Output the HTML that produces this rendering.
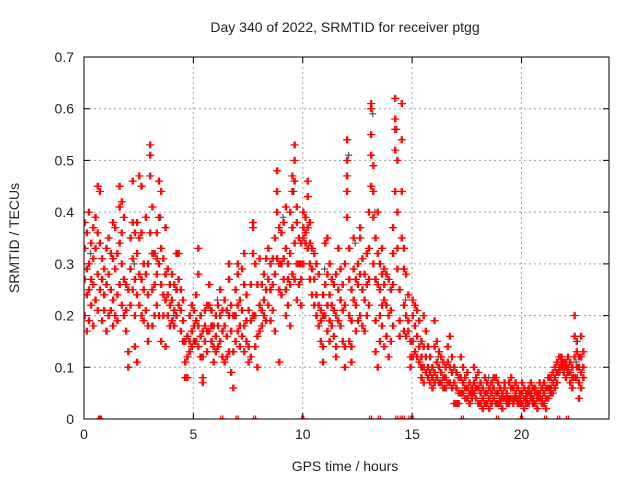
<!DOCTYPE html>
<html><head><meta charset="utf-8"><style>
body{margin:0;background:#fff}
svg text{font-family:"Liberation Sans",sans-serif;fill:#222}
</style></head><body>
<svg id="chart" width="640" height="480" xmlns="http://www.w3.org/2000/svg">
<rect width="640" height="480" fill="#fff"/>
<text x="345" y="32" font-size="14" text-anchor="middle">Day 340 of 2022, SRMTID for receiver ptgg</text>
<text x="0" y="0" font-size="14" text-anchor="middle" transform="translate(19,238) rotate(-90)">SRMTID / TECUs</text>
<text x="345" y="471" font-size="14" text-anchor="middle">GPS time / hours</text>
<g id="grid"></g>
<g id="ticks"></g>
<svg id="plot" x="84" y="57" width="525" height="362" overflow="hidden"></svg>
<rect x="84" y="57" width="525" height="362" fill="none" stroke="#000" stroke-width="1"/>
</svg>
<script>
const xTicks=[0,5,10,15,20];
const yTicks=[0,0.1,0.2,0.3,0.4,0.5,0.6,0.7];
const yTickLabels=["0","0.1","0.2","0.3","0.4","0.5","0.6","0.7"];
const xMax=24, yMax=0.7;
const hours=[
0,0,0,0, 0.1,0.1,0.1,0.1, 0.2,0.2,0.2,0.2, 0.3,0.3,0.3, 0.4,0.4,0.4,0.4, 0.5,0.5,0.5, 0.6,0.6,0.6,0.6, 0.7,0.7,0.7, 0.8,0.8,0.8, 0.9,0.9,0.9,
1.0,1.0,1.0, 1.1,1.1,1.1, 1.2,1.2,1.2, 1.3,1.3,1.3,1.3, 1.4,1.4,1.4, 1.5,1.5,1.5, 1.6,1.6,1.6,1.6, 1.7,1.7,1.7,1.7, 1.8,1.8,1.8, 1.9,1.9,1.9,
2.0,2.0,2.0, 2.1,2.1,2.1, 2.2,2.2,2.2,2.2, 2.3,2.3,2.3,2.3, 2.4,2.4,2.4,2.4, 2.5,2.5,2.5,2.5, 2.6,2.6,2.6,2.6, 2.7,2.7,2.7, 2.8,2.8,2.8, 2.9,2.9,2.9,2.9,
3.0,3.0,3.0,3.0, 3.1,3.1,3.1,3.1, 3.2,3.2,3.2, 3.3,3.3,3.3,3.3, 3.4,3.4,3.4,3.4, 3.5,3.5,3.5,3.5, 3.6,3.6,3.6, 3.7,3.7,3.7,3.7, 3.8,3.8,3.8, 3.9,3.9,3.9,
4.0,4.0,4.0, 4.1,4.1,4.1, 4.2,4.2,4.2, 4.3,4.3,4.3, 4.4,4.4,4.4, 4.5,4.5,4.5, 4.6,4.6,4.6, 4.7,4.7,4.7, 4.8,4.8,4.8, 4.9,4.9,4.9,
5.0,5.0,5.0, 5.1,5.1,5.1, 5.2,5.2,5.2,5.2, 5.3,5.3,5.3, 5.4,5.4,5.4,5.4, 5.5,5.5,5.5, 5.6,5.6,5.6, 5.7,5.7,5.7, 5.8,5.8,5.8, 5.9,5.9,5.9,
6.0,6.0,6.0, 6.1,6.1,6.1, 6.2,6.2,6.2, 6.3,6.3,6.3, 6.4,6.4,6.4, 6.5,6.5,6.5, 6.6,6.6,6.6,6.6, 6.7,6.7,6.7, 6.8,6.8,6.8, 6.9,6.9,6.9,
7.0,7.0,7.0,7.0, 7.1,7.1,7.1, 7.2,7.2,7.2, 7.3,7.3,7.3,7.3, 7.4,7.4,7.4, 7.5,7.5,7.5, 7.6,7.6,7.6, 7.7,7.7,7.7,7.7, 7.8,7.8,7.8, 7.9,7.9,7.9,
8.0,8.0,8.0, 8.1,8.1,8.1, 8.2,8.2,8.2, 8.3,8.3,8.3, 8.4,8.4,8.4, 8.5,8.5,8.5, 8.6,8.6,8.6, 8.7,8.7,8.7, 8.8,8.8,8.8,8.8, 8.9,8.9,8.9,8.9,
9.0,9.0,9.0, 9.1,9.1,9.1, 9.2,9.2,9.2,9.2, 9.3,9.3,9.3, 9.4,9.4,9.4,9.4, 9.5,9.5,9.5,9.5, 9.6,9.6,9.6,9.6,9.6, 9.7,9.7,9.7,9.7, 9.8,9.8,9.8, 9.9,9.9,9.9,9.9,
10.0,10.0,10.0,10.0, 10.1,10.1,10.1, 10.2,10.2,10.2,10.2, 10.3,10.3,10.3,10.3, 10.4,10.4,10.4, 10.5,10.5,10.5, 10.6,10.6,10.6, 10.7,10.7,10.7, 10.8,10.8,10.8, 10.9,10.9,10.9,10.9,
11.0,11.0,11.0, 11.1,11.1,11.1,11.1, 11.2,11.2,11.2,11.2, 11.3,11.3,11.3, 11.4,11.4,11.4, 11.5,11.5,11.5,11.5, 11.6,11.6,11.6, 11.7,11.7,11.7, 11.8,11.8,11.8, 11.9,11.9,11.9,11.9,
12.0,12.0,12.0,12.0,12.0, 12.1,12.1,12.1,12.1, 12.2,12.2,12.2,12.2, 12.3,12.3,12.3, 12.4,12.4,12.4, 12.5,12.5,12.5, 12.6,12.6,12.6,12.6, 12.7,12.7,12.7, 12.8,12.8,12.8, 12.9,12.9,12.9,
13.0,13.0,13.0,13.0, 13.1,13.1,13.1,13.1,13.1, 13.2,13.2,13.2,13.2, 13.3,13.3,13.3,13.3, 13.4,13.4,13.4,13.4, 13.5,13.5,13.5,13.5, 13.6,13.6,13.6,13.6, 13.7,13.7,13.7,13.7, 13.8,13.8,13.8, 13.9,13.9,13.9,
14.0,14.0,14.0, 14.1,14.1,14.1,14.1, 14.2,14.2,14.2,14.2,14.2, 14.3,14.3,14.3,14.3, 14.4,14.4,14.4, 14.5,14.5,14.5,14.5, 14.6,14.6,14.6,14.6, 14.7,14.7,14.7, 14.8,14.8,14.8, 14.9,14.9,14.9,
15.0,15.0,15.0,15.0, 15.1,15.1,15.1, 15.2,15.2,15.2, 15.3,15.3,15.3, 15.4,15.4,15.4,15.4, 15.5,15.5,15.5,15.5, 15.6,15.6,15.6, 15.7,15.7,15.7, 15.8,15.8,15.8, 15.9,15.9,15.9,
16.0,16.0,16.0,16.0, 16.1,16.1,16.1, 16.2,16.2,16.2, 16.3,16.3,16.3, 16.4,16.4,16.4, 16.5,16.5,16.5, 16.6,16.6,16.6, 16.7,16.7,16.7, 16.8,16.8,16.8, 16.9,16.9,16.9,
17.0,17.0,17.0, 17.1,17.1,17.1, 17.2,17.2,17.2, 17.3,17.3,17.3, 17.4,17.4,17.4, 17.5,17.5,17.5, 17.6,17.6,17.6, 17.7,17.7,17.7, 17.8,17.8,17.8, 17.9,17.9,17.9,
18.0,18.0,18.0, 18.1,18.1,18.1, 18.2,18.2,18.2, 18.3,18.3,18.3, 18.4,18.4,18.4, 18.5,18.5,18.5, 18.6,18.6,18.6, 18.7,18.7,18.7, 18.8,18.8,18.8, 18.9,18.9,18.9,
19.0,19.0,19.0, 19.1,19.1,19.1, 19.2,19.2,19.2, 19.3,19.3,19.3, 19.4,19.4,19.4, 19.5,19.5,19.5, 19.6,19.6,19.6, 19.7,19.7,19.7, 19.8,19.8,19.8, 19.9,19.9,19.9,
20.0,20.0,20.0, 20.1,20.1,20.1, 20.2,20.2,20.2, 20.3,20.3,20.3, 20.4,20.4,20.4, 20.5,20.5,20.5, 20.6,20.6,20.6, 20.7,20.7,20.7, 20.8,20.8,20.8, 20.9,20.9,20.9,
21.0,21.0,21.0, 21.1,21.1,21.1, 21.2,21.2,21.2, 21.3,21.3,21.3, 21.4,21.4,21.4, 21.5,21.5,21.5, 21.6,21.6,21.6, 21.7,21.7,21.7, 21.8,21.8,21.8, 21.9,21.9,21.9,
22.0,22.0,22.0, 22.1,22.1,22.1, 22.2,22.2,22.2, 22.3,22.3,22.3, 22.4,22.4,22.4,22.4, 22.5,22.5,22.5,22.5, 22.6,22.6,22.6,22.6, 22.7,22.7,22.7,22.7, 22.8,22.8,22.8
];
const srmtid=[
.38,.33,.27,.2, .36,.29,.24,.17, .4,.3,.25,.19, .34,.27,.22, .37,.31,.26,.18, .39,.33,.23, .45,.36,.28,.21, .44,.34,.25, .31,.27,.19, .29,.24,.21,
.33,.26,.17, .35,.28,.2, .32,.25,.21, .38,.31,.23,.18, .37,.29,.2, .32,.24,.19, .45,.41,.34,.26, .42,.36,.3,.22, .39,.27,.2, .26,.21,.17,
.25,.13,.1, .35,.29,.22, .46,.38,.31,.25, .36,.27,.2,.14, .38,.32,.24,.11, .47,.35,.28,.22, .45,.36,.27,.2, .3,.25,.19, .39,.28,.21, .3,.24,.18,.15,
.53,.51,.47,.36, .41,.32,.25,.18, .32,.26,.2, .36,.31,.28,.22, .46,.39,.3,.2, .44,.33,.26,.15, .31,.24,.2, .37,.28,.23,.14, .29,.24,.2, .26,.22,.18,
.28,.23,.19, .26,.21,.18, .32,.25,.2, .32,.27,.22, .25,.21,.17, .23,.19,.15, .15,.11,.08, .16,.12,.08, .2,.15,.13, .22,.17,.14,
.21,.18,.15, .24,.19,.15, .33,.28,.18,.14, .2,.16,.12, .17,.12,.08,.07, .21,.18,.15, .22,.17,.13, .26,.22,.17, .21,.18,.15, .18,.14,.11,
.2,.16,.13, .22,.18,.14, .25,.2,.15, .21,.17,.12, .23,.18,.11, .21,.16,.12, .3,.27,.2,.13, .22,.17,.09, .2,.13,.06, .25,.2,.15,
.3,.28,.22,.17, .23,.18,.14, .29,.21,.16, .32,.26,.18,.13, .24,.19,.15, .21,.14,.11, .26,.19,.12, .38,.37,.32,.2, .3,.2,.14, .26,.16,.1,
.31,.22,.17, .26,.21,.18, .28,.23,.2, .31,.25,.19, .33,.27,.22, .3,.25,.19, .31,.26,.21, .35,.28,.17, .48,.44,.4,.31, .37,.3,.25,.11,
.36,.3,.24, .38,.31,.27, .41,.33,.25,.2, .3,.27,.22, .4,.32,.26,.18, .47,.44,.37,.28, .53,.5,.46,.34,.27, .41,.38,.3,.23, .35,.3,.26, .34,.3,.27,.22,
.4,.37,.35,.3, .39,.36,.34, .46,.43,.37,.33, .38,.34,.3,.27, .33,.29,.24, .32,.27,.22, .3,.24,.2, .28,.22,.18, .21,.19,.15, .24,.2,.14,.11,
.34,.26,.2, .35,.28,.22,.17, .3,.24,.19,.15, .27,.22,.18, .26,.21,.16, .28,.2,.14,.12, .33,.25,.19, .29,.23,.18, .26,.21,.15, .3,.22,.14,.1,
.54,.5,.47,.44,.39, .33,.27,.2,.15, .25,.19,.14,.11, .35,.29,.23, .27,.22,.17, .3,.26,.19, .37,.35,.28,.2, .31,.25,.18, .28,.23,.17, .32,.26,.2,
.4,.33,.27,.22, .61,.6,.55,.51,.45, .49,.44,.39,.3, .35,.27,.19,.13, .4,.32,.26,.1, .3,.25,.2,.15, .33,.28,.22,.18, .29,.26,.23,.14, .28,.22,.16, .27,.2,.12,
.25,.21,.15, .37,.32,.26,.18, .62,.58,.56,.52,.44, .5,.4,.33,.29, .25,.19,.16, .61,.54,.44,.35, .33,.29,.22,.17, .28,.2,.16, .24,.19,.17, .15,.12,.1,
.23,.2,.15,.12, .22,.18,.13, .21,.16,.12, .19,.14,.11, .15,.12,.1,.08, .2,.14,.1,.07, .17,.12,.09, .14,.1,.08, .12,.09,.07, .1,.08,.06,
.19,.14,.09,.07, .15,.11,.08, .13,.1,.07, .12,.09,.07, .11,.08,.06, .1,.08,.06, .14,.11,.07, .16,.1,.07, .12,.09,.06, .1,.07,.03,
.09,.06,.03, .08,.05,.03, .12,.08,.05, .1,.07,.05, .08,.06,.04, .09,.06,.04, .07,.05,.03, .06,.05,.04, .1,.07,.05, .08,.06,.04,
.09,.06,.03, .07,.05,.03, .06,.04,.02, .08,.05,.03, .07,.05,.03, .06,.04,.02, .07,.05,.03, .08,.06,.04, .08,.05,.03, .07,.05,.03,
.06,.04,.03, .05,.04,.02, .07,.06,.04, .05,.04,.03, .07,.04,.03, .08,.06,.04, .06,.04,.03, .07,.05,.04, .06,.04,.03, .05,.04,.03,
.07,.05,.03, .06,.04,.02, .05,.04,.03, .06,.05,.03, .07,.05,.04, .06,.04,.03, .06,.05,.03, .05,.04,.02, .07,.05,.04, .06,.04,.03,
.07,.05,.03, .06,.04,.02, .08,.06,.04, .08,.06,.05, .09,.07,.05, .1,.08,.06, .11,.09,.07, .12,.1,.09, .12,.11,.1, .11,.1,.09,
.11,.1,.08, .12,.1,.09, .11,.09,.07, .1,.08,.06, .2,.16,.12,.08, .15,.13,.1,.08, .12,.1,.07,.04, .16,.12,.09,.06, .13,.1,.08
];
const zeroHours=[0.7,0.75,6.3,7.0,7.8,10.0,13.1,13.5,14.3,14.5,14.6,14.9,15.0,17.3,18.9,20.0,21.1,21.7,22.1];
const grayHours=[0.3,0.9,2.3,3.5,4.1,6.1,7.3,9.1,9.6,11.0,12.1,12.4,13.2,13.3,14.3,14.7,16.2,18.5,22.5];
const grayValues=[.32,.24,.3,.39,.2,.23,.26,.39,.44,.29,.51,.34,.59,.4,.56,.23,.12,.08,.11];

const L=84,T=57,W=525,H=362;
const NS="http://www.w3.org/2000/svg";
function xPos(h){return h/xMax*W;}
function yPos(v){return H - v/yMax*H;}
const grid=document.getElementById('grid');
const ticks=document.getElementById('ticks');
const plot=document.getElementById('plot');
function mk(tag,attrs,parent){const e=document.createElementNS(NS,tag);for(const k in attrs)e.setAttribute(k,attrs[k]);parent.appendChild(e);return e;}
xTicks.forEach(t=>{
  const x=L+xPos(t);
  if(t>0){const g=mk('line',{x1:x,x2:x,y1:T,y2:T+H,stroke:'#a0a0a0','stroke-dasharray':'2,3'},grid);
  
  }
  const tk=mk('path',{d:`M${x},${T+H}v-6M${x},${T}v6`,stroke:'#000'},ticks);
  
  
  const lb=mk('text',{x:x,y:T+H+20,'font-size':14,'text-anchor':'middle'},ticks);
  lb.textContent=String(t);
  
  
});
yTicks.forEach((v,i)=>{
  const y=T+yPos(v);
  if(v>0&&v<yMax){const g=mk('line',{x1:L,x2:L+W,y1:y,y2:y,stroke:'#a0a0a0','stroke-dasharray':'2,3'},grid);
  
  }
  const tk=mk('path',{d:`M${L},${y}h6M${L+W},${y}h-6`,stroke:'#000'},ticks);
  
  
  const lb=mk('text',{x:L-10,y:y+5,'font-size':14,'text-anchor':'end'},ticks);
  lb.textContent=yTickLabels[i];
  
  
});
// each sample drawn as a short horizontal run of markers (denser gnuplot look)
function plus(h,v,color,name,dx){
  const x=xPos(h)+dx,y=yPos(v);
  const p=mk('path',{d:`M${x-3.5},${y}h7M${x},${y-3.5}v7`,stroke:color,'stroke-width':1.2,fill:'none'},plot);
  
  
}
grayHours.forEach((h,i)=>plus(h,grayValues[i],'#555','gray-point',0));
hours.forEach((h,i)=>{plus(h,srmtid[i],'#ff0000','srmtid-point',0);plus(h,srmtid[i],'#ff0000','srmtid-point',1.2);});
zeroHours.forEach(h=>{plus(h,0,'#ff0000','zero-point',-1);plus(h,0,'#ff0000','zero-point',1);});
</script>
</body></html>
